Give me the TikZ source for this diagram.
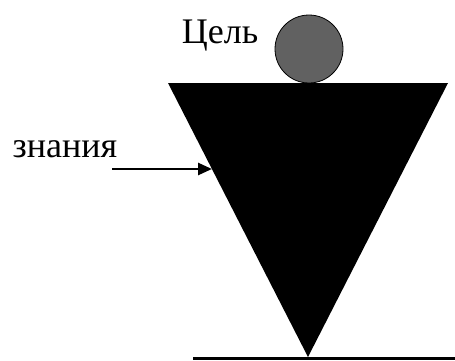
\documentclass[tikz,border=0pt]{standalone}
\usepackage{fontspec}
\setmainfont{Liberation Serif}
\usetikzlibrary{arrows.meta}

\begin{document}
\begin{tikzpicture}[
    x=1pt, y=1pt,
    goal/.style={circle, draw, thick, fill=black!62, minimum size=68pt, inner sep=0pt},
    lbl/.style={inner sep=0pt, font=\fontsize{36}{40}\selectfont},
    feed/.style={-{Triangle[length=14pt,width=12pt]}, line width=2.6pt},
    base/.style={line width=3pt},
]
\useasboundingbox (0,0) rectangle (455,360);

% -------------------------
% funnel and goal
% -------------------------
\coordinate (tl) at (168,277);
\coordinate (tr) at (448,277);
\coordinate (apex) at (308,3);
\fill (tl) -- (tr) -- (apex) -- cycle;

\node[goal] (goal) at (309,311) {};
\node[lbl, anchor=base] (goalLbl) at (220,317) {Цель};

% -------------------------
% input and ground line
% -------------------------
\node[lbl, anchor=base] (know) at (65,203) {знания};
\coordinate (in) at (112,191);
\coordinate (hit) at (212,191);
\draw[feed] (in) -- (hit);

\coordinate (gL) at (193,2);
\coordinate (gR) at (455,2);
\draw[base] (gL) -- (gR);

\end{tikzpicture}
\end{document}
